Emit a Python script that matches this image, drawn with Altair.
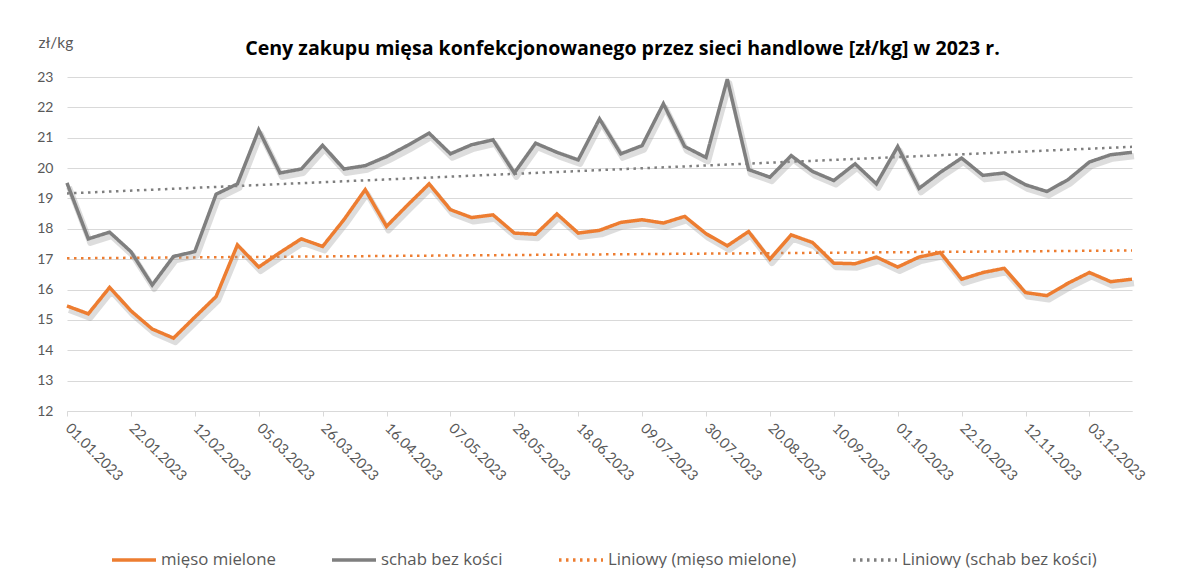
import altair as alt
import pandas as pd

dates = pd.date_range("2023-01-01", periods=51, freq="7D").strftime("%Y-%m-%d").tolist()

mieso_mielone = [15.46, 15.20, 16.07, 15.30, 14.70, 14.40, 15.09, 15.77, 17.47, 16.74, 17.22, 17.67, 17.42, 18.30, 19.29, 18.08,
                 18.79, 19.48, 18.63, 18.37, 18.46, 17.86, 17.82, 18.49, 17.86, 17.95, 18.21, 18.30, 18.19, 18.41, 17.84, 17.44, 17.91, 17.00,
                 17.80, 17.55, 16.87, 16.85, 17.07, 16.74, 17.07, 17.22, 16.34, 16.56, 16.70, 15.90, 15.80, 16.21, 16.56, 16.26, 16.34]
schab_bez_kosci = [19.51, 17.67, 17.89, 17.25, 16.15, 17.09, 17.25, 19.14, 19.48, 21.26, 19.84, 19.97, 20.75, 19.97, 20.08, 20.38,
                   20.75, 21.15, 20.47, 20.77, 20.93, 19.84, 20.82, 20.52, 20.27, 21.62, 20.47, 20.74, 22.12, 20.71, 20.35, 22.93, 19.95, 19.70,
                   20.41, 19.89, 19.59, 20.14, 19.48, 20.71, 19.33, 19.86, 20.33, 19.76, 19.84, 19.45, 19.23, 19.62, 20.20, 20.44, 20.52]

series_names = ["mięso mielone", "schab bez kości"]
legend_names = ["mięso mielone", "schab bez kości", "Liniowy (mięso mielone)", "Liniowy (schab bez kości)"]
colors = ["#ED7D31", "#7F7F7F", "#ED7D31", "#7F7F7F"]
tick_dates = [alt.DateTime(year=int(d[:4]), month=int(d[5:7]), date=int(d[8:10]), utc=True) for d in dates[::3]]

rows = []
for name, vals in zip(series_names, [mieso_mielone, schab_bez_kosci]):
    for d, v in zip(dates, vals):
        rows.append({"date": d, "value": v, "series": name})
df = pd.DataFrame(rows)

FONT = "Lato"
FONT2 = "Open Sans"
TXT = "#595959"

x_enc = alt.X("date:T",
              scale=alt.Scale(type="utc", domain=[dates[0], dates[-1]], nice=False),
              axis=alt.Axis(values=tick_dates, labelExpr="utcFormat(datum.value, '%d.%m.%Y')", title=None,
                            labelAngle=45, labelAlign="left", labelBaseline="middle",
                            labelFont=FONT, labelFontSize=14.5, labelColor=TXT, labelPadding=10,
                            domainColor="#d9d9d9", tickColor="#d9d9d9", tickSize=5, grid=False,
                            labelOverlap=False, labelFlush=False))
y_enc = alt.Y("value:Q",
              scale=alt.Scale(domain=[12, 23], nice=False, zero=False),
              axis=alt.Axis(values=list(range(12, 24)), title="zł/kg", titleAngle=0, titleX=-29, titleY=-27,
                            titleAlign="left", titleFont=FONT, titleFontSize=15.5, titleFontWeight="normal",
                            titleColor=TXT, labelFont=FONT, labelFontSize=14, labelColor=TXT, labelPadding=14,
                            domain=False, ticks=False, gridColor="#d9d9d9", gridWidth=1))

color_enc = alt.Color("series:N", scale=alt.Scale(domain=legend_names, range=colors),
                      legend=alt.Legend(title=None, orient="none", legendX=43, legendY=459, direction="horizontal",
                                        columns=4, symbolType="stroke", symbolSize=1936, symbolStrokeWidth=3.5,
                                        labelFont=FONT2, labelFontSize=16.8, labelColor=TXT, columnPadding=49,
                                        labelOffset=3, labelLimit=400))
dash_enc = alt.StrokeDash("series:N", scale=alt.Scale(domain=legend_names,
                                                      range=[[1, 0], [1, 0], [2.5, 4.5], [2.5, 4.5]]),
                          legend=None)

base = alt.Chart(df)

shadow = base.mark_line(color="#9f9f9f", strokeWidth=6, opacity=0.35, xOffset=2, yOffset=4,
                        strokeJoin="round").encode(x=x_enc, y=y_enc, detail="series:N")

trend = base.transform_regression("date", "value", groupby=["series"]).transform_calculate(
    series="'Liniowy (' + datum.series + ')'"
).mark_line(strokeWidth=2.5, strokeCap="butt").encode(x=x_enc, y=y_enc, color=color_enc, strokeDash=dash_enc)

lines = base.mark_line(strokeWidth=3.5, strokeJoin="miter").encode(x=x_enc, y=y_enc, color=color_enc,
                                                                    strokeDash=dash_enc)

chart = alt.layer(trend, shadow, lines).properties(
    width=1065, height=334,
    autosize=alt.AutoSizeParams(type="none"),
    padding={"left": 59, "top": 69, "right": 40, "bottom": 157},
    title=alt.TitleParams("Ceny zakupu mięsa konfekcjonowanego przez sieci handlowe [zł/kg]  w 2023 r.",
                          font=FONT2, fontSize=19.6, fontWeight="bold", color="#000000", anchor="middle",
                          dx=23, dy=43, offset=18)
).configure_view(stroke=None)

chart.save("out.html", embed_options={"renderer": "svg", "actions": False})
